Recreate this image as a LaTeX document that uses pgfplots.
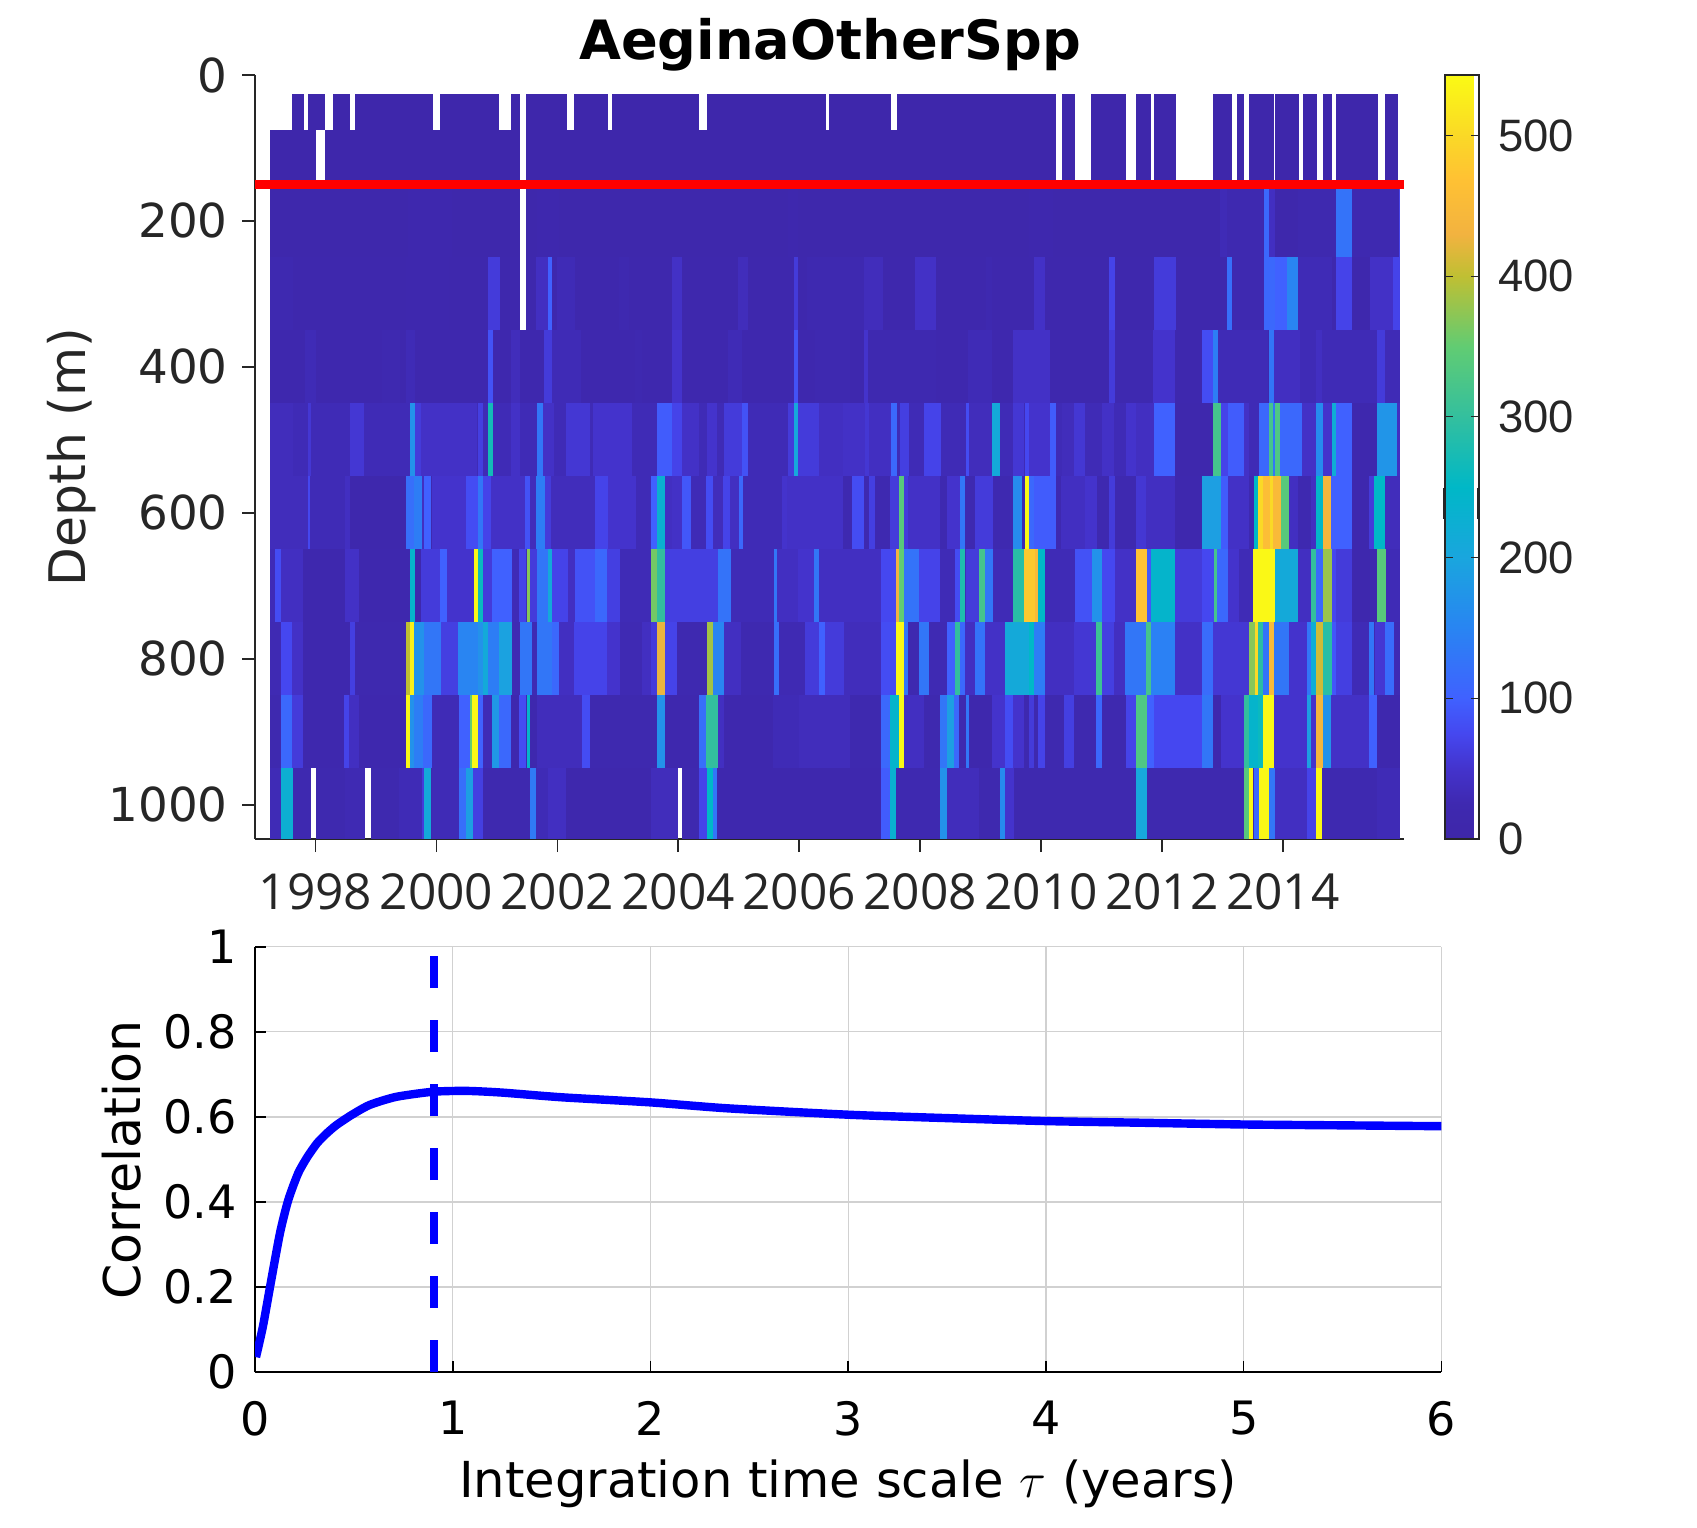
\documentclass[border=0pt]{standalone}
\usepackage{fontspec}
\usepackage{pgfplots}
\pgfplotsset{compat=1.18}
\setmainfont{DejaVu Sans}
\newfontfamily\helv{Liberation Sans}
\newfontfamily\opens{Open Sans}
\pgfdeclareplotmark{cell}{\pgfpathrectangle{\pgfpoint{-\cellw*15.115pt-0.1pt}{-\cellh}}{\pgfpoint{\cellw*30.23pt+0.2pt}{2*\cellh}}\pgfusepathqfill}
\newcommand{\cells}[3]{\addplot[forget plot,scatter,only marks,mark=cell,point meta=\thisrow{v},visualization depends on={\thisrow{b}-\thisrow{a}\as\cellw},visualization depends on={value #2\as\cellh}] table[row sep=crcr,x expr={(\thisrow{a}+\thisrow{b})/2},y expr={#1}]{a b v\\#3};}
\pgfplotsset{colormap={parula}{rgb(0pt)=(.2422,.1504,.6603) rgb(25pt)=(.245,.16,.69) rgb(50pt)=(.265,.2,.8) rgb(75pt)=(.27,.28,.94) rgb(100pt)=(.25,.38,1) rgb(150pt)=(.16,.52,.95) rgb(200pt)=(.1,.65,.87) rgb(250pt)=(0,.72,.78) rgb(300pt)=(.2,.75,.62) rgb(350pt)=(.38,.8,.45) rgb(400pt)=(.75,.75,.2) rgb(430pt)=(.95,.7,.25) rgb(470pt)=(1,.76,.2) rgb(500pt)=(.98,.85,.15) rgb(543pt)=(.98,.98,.08)}}
\definecolor{axc}{HTML}{262626}
\begin{document}
\begin{tikzpicture}
\useasboundingbox (0,0) rectangle (848.5pt,-763.5pt);
\begin{axis}[
 at={(127.5pt,-419.5pt)},anchor=south west,scale only axis,width=574.4pt,height=382pt,
 xmin=1997,xmax=2016,ymin=0,ymax=1047,y dir=reverse,clip marker paths=true,
 axis x line*=bottom,axis y line*=left,axis line style={axc,line width=0.8pt,-},
 tick align=outside,major tick length=6.5pt,tick style={axc,line width=0.8pt},
 xtick={1998,2000,...,2014},ytick={0,200,...,1000},
 /pgf/number format/set thousands separator={},/pgf/number format/assume math mode=true,
 xticklabel style={font=\fontsize{24.8}{26}\opens,text=axc,yshift=-7.3pt},
 yticklabel style={font=\fontsize{23.4}{24}\selectfont,text=axc,xshift=-3.6pt},
 title={\textbf{AeginaOtherSpp}},title style={font=\fontsize{27.1}{28}\selectfont,at={(0.5007,1)},anchor=south,yshift=-7.8pt},
 ylabel={Depth (m)},ylabel style={font=\fontsize{25.2}{26}\selectfont,text=axc,at={(axis description cs:-0.1595,0.5)},anchor=center},
 point meta min=0,point meta max=543,colormap name=parula,
 colorbar,colorbar style={at={(1.0357,1)},anchor=north west,scale only axis,width=17pt,height=382pt,y dir=normal,axis lines=box,axis line style={axc,line width=1pt},
  ytick={0,100,...,500},tick pos=right,yticklabel pos=right,tick align=outside,major tick length=0pt,
  /pgf/number format/assume math mode=true,yticklabel style={font=\fontsize{22.7}{23}\helv,text=axc,xshift=6.3pt},
  after end axis/.code={\draw[axc,line width=1.6pt] (axis description cs:0,0.419)--(axis description cs:0,0.46);\draw[axc,line width=1.6pt] (axis description cs:1,0.419)--(axis description cs:1,0.46);
   \foreach \f in {0.1842,0.3683,0.5525,0.7366,0.9208}{\draw[axc,line width=0.6pt] (axis description cs:0,\f)--++(4pt,0pt);\draw[axc,line width=0.6pt] (axis description cs:1,\f)--++(-4pt,0pt);}}},
]
\cells{51}{9.12pt}{1997.63 1997.82 10\\1997.88 1998.16 10\\1998.30 1998.58 10\\1998.66 1999.94 10\\2000.07 2001.05 10\\2001.25 2001.39 10\\2001.49 2002.16 10\\2002.29 2002.85 10\\2002.92 2004.35 10\\2004.48 2006.45 10\\2006.50 2007.52 10\\2007.62 2010.25 10\\2010.35 2010.56 10\\2010.84 2011.41 10\\2011.58 2011.82 10\\2011.88 2012.23 10\\2012.86 2013.17 10\\2013.27 2013.37 10\\2013.45 2013.86 10\\2013.88 2014.26 10\\2014.34 2014.56 10\\2014.67 2014.81 10\\2014.89 2015.57 10\\2015.70 2015.90 10\\}
\cells{113}{13.5pt}{1997.26 1998.02 10\\1998.16 2001.39 10\\2001.49 2010.25 10\\2010.35 2010.56 10\\2010.84 2011.41 10\\2011.58 2011.82 10\\2011.88 2012.23 10\\2012.86 2013.17 10\\2013.27 2013.37 10\\2013.45 2013.86 10\\2013.88 2014.26 10\\2014.34 2014.56 10\\2014.67 2014.81 10\\2014.89 2015.57 10\\2015.70 2015.90 10\\}
\cells{200}{18.24pt}{1997.26 2001.39 12\\2001.49 2015.94 12\\1999.54 2000.26 18\\2001.67 2002.03 20\\2005.82 2005.99 20\\2009.8 2010.2 18\\2012.98 2013.10 30\\2013.10 2013.69 25\\2013.69 2013.78 110\\2013.78 2013.88 40\\2014.26 2014.89 22\\2014.89 2015.16 125\\2015.16 2015.92 25\\2015.92 2015.94 70\\}
\cells{300}{18.24pt}{1997.26 2001.39 15\\2001.49 2015.94 15\\1997.26 1997.63 25\\2000.86 2001.05 60\\2001.67 2001.86 40\\2001.86 2001.92 100\\1999.5 2000.2 20\\2001.99 2002.29 30\\2003.04 2003.20 25\\2003.91 2004.07 45\\2005.00 2005.16 35\\2005.92 2005.99 60\\2006.14 2007.08 25\\2007.08 2007.39 35\\2007.92 2008.27 45\\2009.09 2009.19 25\\2009.90 2010.07 45\\2011.14 2011.23 70\\2011.88 2012.23 60\\2013.09 2013.17 120\\2013.17 2013.69 25\\2013.69 2013.88 110\\2013.88 2014.09 100\\2014.09 2014.26 150\\2014.26 2014.81 30\\2014.89 2015.16 70\\2015.44 2015.84 45\\2015.84 2015.94 70\\}
\cells{400}{18.24pt}{1997.26 2015.94 20\\1997.84 1998.01 30\\1999.12 1999.41 25\\1999.51 1999.64 30\\2000.86 2000.93 85\\2001.24 2001.39 35\\2001.78 2001.92 60\\2001.92 2002.39 30\\2003.30 2003.40 25\\2003.91 2004.07 50\\2004.84 2005.07 30\\2005.92 2005.99 85\\2006.27 2006.85 25\\2007.08 2007.16 50\\2007.16 2008.27 25\\2008.80 2009.19 30\\2009.55 2010.16 45\\2011.14 2011.23 60\\2011.23 2011.87 25\\2011.87 2012.23 50\\2012.67 2012.85 80\\2012.85 2012.93 140\\2012.93 2013.76 30\\2013.78 2013.86 130\\2013.86 2014.29 40\\2014.29 2014.56 30\\2014.56 2014.67 40\\2014.67 2015.56 30\\2015.56 2015.69 60\\2015.69 2015.94 30\\}
\cells{500}{18.24pt}{1997.26 2015.94 30\\1997.26 1997.63 35\\1997.88 1997.92 55\\1998.58 1998.81 55\\1999.58 1999.65 170\\1999.65 1999.76 60\\1999.76 2000.69 45\\2000.70 2000.78 65\\2000.86 2000.93 270\\2001.25 2001.39 45\\2001.67 2001.78 130\\2001.78 2001.96 45\\2002.16 2002.55 55\\2002.61 2003.24 50\\2003.66 2003.91 95\\2003.91 2004.07 70\\2004.07 2004.35 45\\2004.48 2004.65 50\\2004.76 2005.07 60\\2005.07 2005.16 85\\2005.83 2005.92 60\\2005.92 2005.99 205\\2005.99 2006.34 60\\2006.34 2006.85 40\\2006.74 2007.10 45\\2007.10 2007.16 55\\2007.16 2007.52 40\\2007.52 2007.62 110\\2007.67 2007.82 65\\2008.07 2008.35 70\\2008.76 2008.82 80\\2008.82 2009.20 35\\2009.20 2009.33 210\\2009.55 2009.73 55\\2009.73 2009.81 75\\2009.81 2010.16 50\\2010.16 2010.25 95\\2010.35 2010.56 35\\2010.56 2010.73 55\\2011.02 2011.22 45\\2011.41 2011.58 50\\2011.58 2011.88 40\\2011.88 2012.23 100\\2012.23 2012.86 16\\2012.86 2012.98 320\\2012.98 2013.09 70\\2013.09 2013.37 95\\2013.37 2013.45 45\\2013.60 2013.78 110\\2013.78 2013.85 320\\2013.85 2013.88 130\\2013.88 2013.97 330\\2013.97 2014.33 110\\2014.33 2014.56 45\\2014.56 2014.67 160\\2014.67 2014.81 50\\2014.81 2014.89 220\\2014.89 2015.16 100\\2015.16 2015.56 20\\2015.56 2015.89 175\\2015.89 2015.94 40\\}
\cells{600}{18.24pt}{1997.26 2015.94 25\\1997.26 1997.90 35\\1997.88 1997.92 75\\1997.92 1998.50 30\\1998.50 1998.58 40\\1998.58 1999.51 15\\1999.51 1999.64 120\\1999.64 1999.76 140\\1999.76 1999.82 40\\1999.82 1999.93 100\\1999.93 2000.50 50\\2000.50 2000.70 80\\2000.70 2000.78 130\\2000.78 2000.92 70\\2000.92 2001.49 45\\2001.49 2001.56 85\\2001.56 2001.67 35\\2001.67 2001.80 140\\2001.80 2001.91 60\\2001.91 2002.63 35\\2002.63 2002.84 70\\2002.84 2003.31 50\\2003.31 2003.56 30\\2003.56 2003.66 100\\2003.66 2003.79 230\\2003.79 2003.91 40\\2003.91 2004.07 45\\2004.07 2004.22 90\\2004.22 2004.48 30\\2004.48 2004.58 80\\2004.58 2004.77 35\\2004.77 2004.87 70\\2004.87 2005.01 40\\2005.01 2005.08 110\\2005.08 2005.72 30\\2005.72 2005.82 50\\2005.82 2006.47 45\\2006.47 2006.74 45\\2006.89 2007.08 80\\2007.16 2007.25 65\\2007.52 2007.67 60\\2007.67 2007.75 340\\2007.75 2007.82 60\\2007.82 2008.34 45\\2008.46 2008.67 50\\2008.67 2008.75 130\\2008.91 2009.20 60\\2009.55 2009.68 160\\2009.73 2009.81 540\\2009.81 2009.89 110\\2009.89 2010.25 95\\2010.35 2010.73 40\\2010.73 2010.92 50\\2011.14 2011.23 60\\2011.58 2011.74 55\\2011.74 2012.23 40\\2012.23 2012.67 18\\2012.67 2012.98 190\\2012.98 2013.09 95\\2013.09 2013.43 45\\2013.52 2013.61 250\\2013.61 2013.69 500\\2013.69 2013.80 460\\2013.80 2013.85 500\\2013.85 2013.98 450\\2013.98 2014.10 340\\2014.10 2014.26 40\\2014.26 2014.48 25\\2014.48 2014.56 40\\2014.56 2014.67 245\\2014.67 2014.81 440\\2014.81 2015.16 100\\2015.16 2015.44 20\\2015.44 2015.52 60\\2015.52 2015.69 250\\2015.69 2015.94 35\\}
\cells{700}{18.24pt}{1997.26 2015.94 30\\1997.33 1997.43 80\\1997.43 1997.81 40\\1997.81 1998.50 20\\1998.50 1998.73 45\\1998.73 1999.58 20\\1999.58 1999.65 240\\1999.65 1999.75 15\\1999.75 2000.08 60\\2000.08 2000.18 100\\2000.18 2000.62 50\\2000.62 2000.70 540\\2000.70 2000.78 260\\2000.78 2000.93 60\\2000.93 2001.25 100\\2001.39 2001.50 70\\2001.50 2001.56 370\\2001.56 2001.67 60\\2001.67 2001.85 130\\2001.85 2001.92 210\\2001.92 2002.18 70\\2002.18 2002.29 40\\2002.29 2002.63 85\\2002.63 2002.84 110\\2002.84 2003.04 65\\2003.56 2003.66 360\\2003.66 2003.79 300\\2003.79 2004.67 65\\2004.67 2004.88 125\\2005.58 2005.65 130\\2005.65 2005.99 40\\2005.99 2006.26 50\\2006.26 2006.34 130\\2006.34 2007.36 40\\2007.36 2007.61 75\\2007.61 2007.67 430\\2007.67 2007.75 350\\2007.75 2008.00 125\\2008.00 2008.34 70\\2008.58 2008.67 80\\2008.67 2008.75 280\\2008.75 2008.98 60\\2008.98 2009.08 320\\2009.08 2009.20 130\\2009.55 2009.73 290\\2009.73 2009.91 480\\2009.91 2009.97 450\\2009.97 2010.07 250\\2010.56 2010.84 85\\2010.84 2011.02 170\\2011.02 2011.23 75\\2011.23 2011.58 45\\2011.58 2011.76 470\\2011.76 2011.82 90\\2011.82 2012.23 240\\2012.23 2012.67 60\\2012.67 2012.86 75\\2012.86 2012.93 320\\2012.93 2013.10 110\\2013.10 2013.27 50\\2013.52 2013.88 540\\2013.88 2014.26 210\\2014.26 2014.47 40\\2014.47 2014.56 300\\2014.56 2014.67 110\\2014.67 2014.81 380\\2014.81 2014.89 75\\2014.89 2015.16 60\\2015.16 2015.56 20\\2015.56 2015.69 340\\}
\cells{800}{18.24pt}{1997.26 2015.94 28\\1997.43 1997.63 75\\1997.63 1997.81 45\\1997.81 1998.58 20\\1998.58 1998.66 65\\1998.66 1999.51 22\\1999.51 1999.58 400\\1999.58 1999.65 530\\1999.65 1999.80 170\\1999.80 2000.08 130\\2000.08 2000.38 65\\2000.38 2000.71 150\\2000.71 2000.78 170\\2000.78 2000.85 210\\2000.85 2001.05 140\\2001.05 2001.25 195\\2001.39 2001.57 130\\2001.67 2001.92 130\\2001.92 2002.04 110\\2002.04 2002.29 40\\2002.29 2002.84 70\\2002.84 2003.04 50\\2003.04 2003.40 28\\2003.40 2003.56 40\\2003.56 2003.66 60\\2003.66 2003.79 425\\2003.79 2003.99 70\\2003.99 2004.48 25\\2004.48 2004.59 385\\2004.59 2004.76 150\\2004.76 2005.04 40\\2005.04 2005.58 25\\2005.58 2005.65 120\\2006.11 2006.34 60\\2006.34 2006.44 100\\2006.44 2006.74 60\\2006.74 2007.36 35\\2007.36 2007.61 80\\2007.61 2007.75 540\\2007.75 2007.82 130\\2007.82 2008.00 25\\2008.00 2008.16 130\\2008.45 2008.58 100\\2008.58 2008.67 300\\2008.67 2008.75 110\\2008.75 2008.91 40\\2008.91 2009.08 125\\2009.08 2009.42 45\\2009.42 2009.81 210\\2009.81 2009.89 250\\2009.89 2010.07 140\\2010.07 2010.56 40\\2010.56 2010.92 55\\2010.92 2011.02 310\\2011.02 2011.23 65\\2011.23 2011.41 40\\2011.41 2011.75 130\\2011.75 2011.82 320\\2011.82 2012.23 145\\2012.23 2012.67 45\\2012.67 2012.86 115\\2012.86 2013.45 55\\2013.45 2013.54 370\\2013.54 2013.60 500\\2013.60 2013.68 290\\2013.68 2013.78 125\\2013.78 2013.86 450\\2013.86 2014.12 130\\2014.12 2014.41 50\\2014.41 2014.48 130\\2014.48 2014.56 220\\2014.56 2014.67 410\\2014.67 2014.81 290\\2014.81 2014.89 90\\2014.89 2015.16 65\\2015.16 2015.44 30\\2015.44 2015.52 130\\2015.52 2015.70 55\\2015.70 2015.84 115\\}
\cells{900}{18.24pt}{1997.26 2015.94 22\\1997.43 1997.63 110\\1997.63 1997.81 60\\1997.81 1998.48 18\\1998.48 1998.58 70\\1998.58 1998.73 40\\1998.73 1999.51 18\\1999.51 1999.58 540\\1999.58 1999.65 170\\1999.65 1999.80 140\\1999.80 1999.95 110\\1999.95 2000.38 30\\2000.38 2000.57 100\\2000.57 2000.61 350\\2000.61 2000.70 540\\2000.70 2000.78 100\\2000.78 2000.93 30\\2000.93 2001.05 180\\2001.05 2001.25 110\\2001.25 2001.39 18\\2001.39 2001.50 80\\2001.50 2001.56 240\\2001.56 2001.67 20\\2001.67 2002.41 35\\2002.41 2002.54 80\\2003.66 2003.79 170\\2003.79 2004.36 20\\2004.36 2004.48 120\\2004.48 2004.66 300\\2004.66 2004.77 40\\2004.77 2005.58 20\\2005.58 2006.00 30\\2006.00 2006.85 35\\2007.36 2007.52 110\\2007.52 2007.67 240\\2007.67 2007.75 540\\2007.75 2008.08 40\\2008.34 2008.46 130\\2008.46 2008.58 190\\2008.58 2008.65 110\\2008.76 2008.83 130\\2008.83 2009.20 15\\2009.20 2009.42 50\\2009.42 2009.55 80\\2009.55 2009.73 50\\2009.81 2009.89 60\\2009.97 2010.07 70\\2010.40 2010.56 65\\2010.92 2011.02 110\\2011.41 2011.58 70\\2011.58 2011.76 330\\2011.76 2011.88 100\\2011.88 2012.67 75\\2012.67 2012.86 130\\2012.86 2012.98 20\\2012.98 2013.36 50\\2013.36 2013.45 300\\2013.45 2013.60 240\\2013.60 2013.68 260\\2013.68 2013.86 540\\2013.86 2014.41 50\\2014.41 2014.48 190\\2014.48 2014.56 50\\2014.56 2014.67 440\\2014.67 2014.81 170\\2014.81 2015.44 45\\2015.44 2015.57 100\\2015.57 2015.94 20\\}
\cells{998.5}{17.7pt}{1997.26 1997.92 25\\1998.02 1998.82 22\\1998.92 2003.99 22\\2004.07 2015.94 22\\1997.26 1997.43 30\\1997.43 1997.63 225\\1998.50 1998.82 28\\1999.40 1999.77 30\\1999.77 1999.82 60\\1999.82 1999.93 210\\1999.93 2000.38 30\\2000.38 2000.50 120\\2000.50 2000.62 190\\2000.62 2000.78 65\\2001.56 2001.67 135\\2001.67 2001.86 30\\2001.86 2002.16 40\\2002.16 2003.56 16\\2003.56 2003.99 35\\2004.36 2004.48 70\\2004.48 2004.59 250\\2004.59 2004.66 130\\2004.66 2007.36 18\\2007.36 2007.52 95\\2007.52 2007.61 230\\2007.61 2008.35 25\\2008.35 2008.46 170\\2008.46 2008.98 35\\2009.33 2009.42 160\\2009.42 2009.55 50\\2011.58 2011.75 205\\2013.37 2013.45 340\\2013.45 2013.52 540\\2013.52 2013.61 110\\2013.61 2013.78 540\\2013.78 2013.88 130\\2013.88 2014.41 40\\2014.41 2014.56 70\\2014.56 2014.67 540\\2014.67 2015.56 25\\2015.56 2015.94 30\\}
\addplot[forget plot,red,line width=4.15pt] coordinates {(1997,150) (2016,150)};
\end{axis}
\begin{axis}[
 at={(127.5pt,-686pt)},anchor=south west,scale only axis,width=593.2pt,height=212.65pt,
 xmin=0,xmax=6,ymin=0,ymax=1,
 axis x line*=bottom,axis y line*=left,axis line style={black,line width=0.8pt,-},
 tick align=inside,major tick length=5.5pt,tick style={black,line width=0.8pt},
 grid=major,grid style={black!18,line width=0.7pt},
 xtick={0,...,6},ytick={0,0.2,0.4,0.6,0.8,1},
 /pgf/number format/assume math mode=true,
 xticklabel style={font=\fontsize{23}{24}\selectfont,yshift=-11pt},
 yticklabel style={font=\fontsize{23}{24}\selectfont,xshift=-5.8pt},
 xlabel={Integration time scale $\tau$ (years)},xlabel style={font=\fontsize{24.8}{25}\selectfont,at={(axis description cs:0.5,-0.263)},anchor=center},
 ylabel={Correlation},ylabel style={font=\fontsize{25.3}{26}\selectfont,at={(axis description cs:-0.112,0.498)},anchor=center},
]
\addplot[blue,line width=4.2pt,smooth,tension=0.4] coordinates {(0.005,0.035) (0.04,0.107) (0.076,0.2) (0.126,0.326) (0.168,0.404) (0.218,0.467) (0.264,0.505) (0.314,0.538) (0.36,0.56) (0.41,0.58) (0.487,0.604) (0.58,0.628) (0.714,0.647) (0.9,0.659) (1.07,0.661) (1.25,0.657) (1.55,0.646) (2,0.634) (2.39,0.62) (3,0.605) (3.5,0.597) (4,0.59) (4.5,0.586) (5,0.582) (5.5,0.58) (6,0.578)};
\addplot[blue,line width=4pt,dash pattern=on 16pt off 16pt] coordinates {(0.905,0) (0.905,1)};
\end{axis}
\end{tikzpicture}
\end{document}
